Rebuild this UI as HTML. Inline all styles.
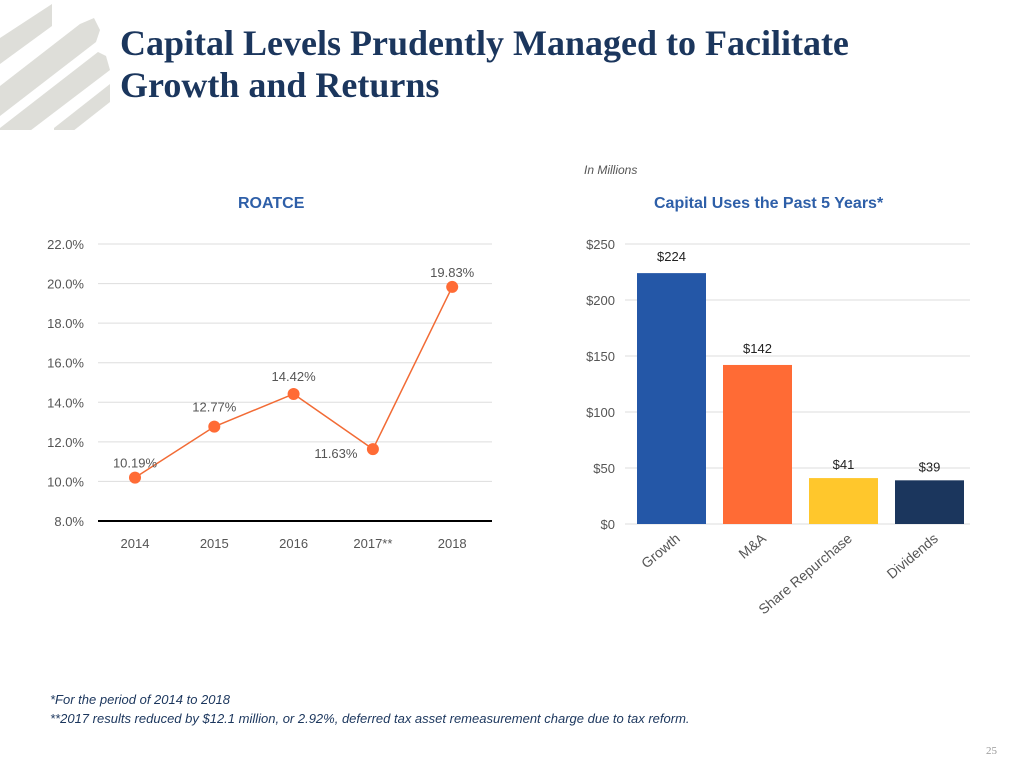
<!DOCTYPE html>
<html><head><meta charset="utf-8"><style>
body{margin:0;width:1024px;height:768px;background:#fff;position:relative;overflow:hidden;font-family:"Liberation Sans",sans-serif}
.t{position:absolute;font-family:"Liberation Serif",serif;font-weight:bold;color:#1b365d;font-size:36px;line-height:42px;left:120px;top:22px}
.a{position:absolute}
</style></head><body>
<svg class="a" style="left:0;top:0" width="120" height="130">
<g fill="#deded9">
<polygon points="0,38 52,4 52,26 0,64"/>
<polygon points="0,86 80,24 94,18 100,30 96,42 0,116"/>
<polygon points="0,128 98,52 106,56 110,70 18,140 0,140"/>
<polygon points="54,128 110,84 110,102 54,146"/>
</g></svg>
<div class="t">Capital Levels Prudently Managed to Facilitate<br>Growth and Returns</div>
<div class="a" style="left:584px;top:163px;font-size:12px;font-style:italic;color:#555">In Millions</div>
<div class="a" style="left:238px;top:195px;font-size:16px;font-weight:bold;color:#2e5fa8">ROATCE</div>
<div class="a" style="left:654px;top:195px;font-size:16px;font-weight:bold;color:#2e5fa8">Capital Uses the Past 5 Years*</div>
<svg id="c" class="a" style="left:0;top:0" width="1024" height="768"></svg>
<div class="a" style="left:50px;top:690px;font-size:13px;font-style:italic;color:#1b365d;line-height:19px">*For the period of 2014 to 2018<br>**2017 results reduced by $12.1 million, or 2.92%, deferred tax asset remeasurement charge due to tax reform.</div>
<div class="a" style="left:986px;top:745px;font-size:11px;color:#999;font-family:'Liberation Serif',serif">25</div>
<script>
const years=["2014","2015","2016","2017**","2018"];
const roatce=[10.19,12.77,14.42,11.63,19.83];
const yTicks=[8,10,12,14,16,18,20,22];
const cats=["Growth","M&A","Share Repurchase","Dividends"];
const uses=[224,142,41,39];
const colors=["#2457a7","#ff6b35","#ffc72c","#1b365d"];
const uTicks=[0,50,100,150,200,250];
const S=document.getElementById('c'),N="http://www.w3.org/2000/svg";
function mk(t,a,txt){const e=document.createElementNS(N,t);for(const k in a)e.setAttribute(k,a[k]);if(txt!=null)e.textContent=txt;S.appendChild(e);return e;}
const ly=v=>521-(v-8)*(277/14), lx=i=>135+i*79.3;
yTicks.forEach(v=>{const g=mk('line',{x1:98,x2:492,y1:ly(v),y2:ly(v),stroke:v==8?'#000':'#ddd','stroke-width':v==8?2:1});

const t=mk('text',{x:84,y:ly(v)+5,'text-anchor':'end','font-size':13,fill:'#555'},v.toFixed(1)+'%');
});
years.forEach((y,i)=>{const t=mk('text',{x:lx(i),y:548,'text-anchor':'middle','font-size':13,fill:'#555'},y);
});
const pl=mk('polyline',{points:roatce.map((v,i)=>lx(i)+','+ly(v)).join(' '),fill:'none',stroke:'#f26b35','stroke-width':1.5});

const off=[[0,-10],[0,-15],[0,-13],[-37,9],[0,-10]];
roatce.forEach((v,i)=>{const c=mk('circle',{cx:lx(i),cy:ly(v),r:6,fill:'#ff6b35'});

const t=mk('text',{x:lx(i)+off[i][0],y:ly(v)+off[i][1],'text-anchor':'middle','font-size':13,fill:'#555'},v.toFixed(2)+'%');
});
const uy=v=>524-v*(280/250), ux=i=>637+i*86;
uTicks.forEach(v=>{const g=mk('line',{x1:625,x2:970,y1:uy(v),y2:uy(v),stroke:'#ddd'});

const t=mk('text',{x:615,y:uy(v)+5,'text-anchor':'end','font-size':13,fill:'#555'},'$'+v);
});
uses.forEach((v,i)=>{const r=mk('rect',{x:ux(i),y:uy(v),width:69,height:uy(0)-uy(v),fill:colors[i]});

const t=mk('text',{x:ux(i)+34.5,y:uy(v)-(i>=2?9:12),'text-anchor':'middle','font-size':13,fill:'#222'},'$'+v);

const cx=ux(i)+44,cy=540;
const l=mk('text',{x:cx,y:cy,'text-anchor':'end','font-size':14,fill:'#555',transform:`rotate(-40 ${cx} ${cy})`},cats[i]);
});
</script>
</body></html>
